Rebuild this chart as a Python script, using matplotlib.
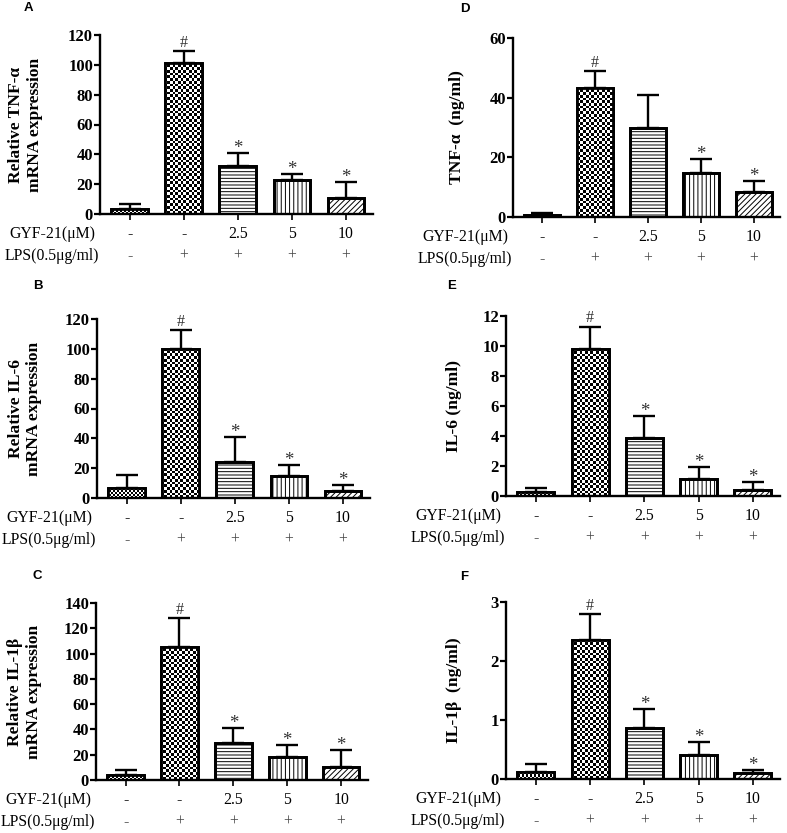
import numpy as np
import matplotlib
matplotlib.use('Agg')
import matplotlib.pyplot as plt

plt.rcParams['font.family'] = ['Liberation Serif', 'DejaVu Serif']
plt.rcParams['hatch.linewidth'] = 0.7

# datos
gyf = ['-', '-', '2.5', '5', '10']
lps = ['-', '+', '+', '+', '+']

tnf_mrna = [3.5, 101, 32.5, 23, 11]
tnf_mrna_err = [3, 8, 8.5, 3.5, 10.5]
tnf_mrna_sig = ['', '#', '*', '*', '*']

il6_mrna = [7, 100, 24, 14.5, 4.5]
il6_mrna_err = [8.5, 12.5, 17, 7.5, 4.5]
il6_mrna_sig = ['', '#', '*', '*', '*']

il1b_mrna = [3.8, 105, 29, 18.5, 10]
il1b_mrna_err = [4.2, 23, 12, 9.5, 13.5]
il1b_mrna_sig = ['', '#', '*', '*', '*']

tnf_prot = [0.8, 43.2, 29.8, 14.8, 8.3]
tnf_prot_err = [0.5, 5.7, 11.2, 4.5, 3.9]
tnf_prot_sig = ['', '#', '', '*', '*']

il6_prot = [0.25, 9.8, 3.85, 1.1, 0.4]
il6_prot_err = [0.25, 1.5, 1.5, 0.8, 0.55]
il6_prot_sig = ['', '#', '*', '*', '*']

il1b_prot = [0.12, 2.35, 0.86, 0.4, 0.1]
il1b_prot_err = [0.14, 0.45, 0.33, 0.22, 0.06]
il1b_prot_sig = ['', '#', '*', '*', '*']

W, H = 787, 833
fig = plt.figure(figsize=(W / 100, H / 100), dpi=100)


def caja(izq, der, arriba, abajo):
    return [izq / W, 1 - abajo / H, (der - izq) / W, (abajo - arriba) / H]


def tablero(ax, parche, celda, lim_x, lim_y):
    pos = ax.get_position()
    ancho = pos.width * W
    alto = pos.height * H
    nx = int(round(ancho / celda))
    ny = int(round(alto / celda))
    arr = np.add.outer(np.arange(ny), np.arange(nx)) % 2
    im = ax.imshow(arr, cmap='gray', vmin=0, vmax=1, aspect='auto',
                   interpolation='nearest',
                   extent=(lim_x[0], lim_x[1], lim_y[0], lim_y[1]), zorder=2.1)
    im.set_clip_path(parche)


def panel(ax, medias, errores, sig, yticks, ylabel, ylab_x, letra, letra_xy):
    x = np.arange(len(medias))
    lim_x = (-0.55, 4.5)
    lim_y = (yticks[0], yticks[-1])
    tramas = [None, None, '-----', '||||', '//////']
    barras = ax.bar(x, medias, width=0.68, facecolor='white', edgecolor='black',
                    linewidth=2, zorder=2)
    for i, b in enumerate(barras):
        if tramas[i]:
            b.set_hatch(tramas[i])
    tablero(ax, barras[0], 2.0, lim_x, lim_y)
    tablero(ax, barras[1], 2.7, lim_x, lim_y)
    ax.bar(x, medias, width=0.68, facecolor='none', edgecolor='black',
           linewidth=2, zorder=2.2)
    ax.errorbar(x, medias, yerr=[np.zeros(len(x)), errores], fmt='none',
                ecolor='black', elinewidth=1.7, capsize=8, capthick=1.7, zorder=1.9)

    for i, m in enumerate(sig):
        if m == '#':
            ax.annotate(m, (x[i], medias[i] + errores[i]), xytext=(0, 4),
                        textcoords='offset pixels', ha='center', va='baseline',
                        fontsize=11.5, color='#333333')
        elif m == '*':
            ax.annotate(m, (x[i], medias[i] + errores[i]), xytext=(0, 0),
                        textcoords='offset pixels', ha='center', va='baseline',
                        fontsize=13.5, color='#333333')

    ax.set_xlim(lim_x)
    ax.set_ylim(lim_y)
    ax.set_yticks(yticks)
    ax.set_yticklabels([str(t) for t in yticks], fontsize=12, fontweight='bold')
    ax.set_xticks(x)
    ax.set_xticklabels([])
    ax.tick_params(axis='y', length=4, width=1.6, pad=1)
    ax.tick_params(axis='x', length=4, width=1.2)
    for s in ['top', 'right']:
        ax.spines[s].set_visible(False)
    for s in ['left', 'bottom']:
        ax.spines[s].set_linewidth(1.7)

    ax.set_ylabel(ylabel, fontsize=12.6, fontweight='bold', linespacing=1.2)
    ax.yaxis.set_label_coords(ylab_x, 0.5)

    ax.annotate('GYF-21(μM)', xy=(0, 0), xycoords='axes fraction', xytext=(-48, -20),
                textcoords='offset pixels', ha='center', va='center', fontsize=11.3)
    ax.annotate('LPS(0.5μg/ml)', xy=(0, 0), xycoords='axes fraction', xytext=(-48, -42),
                textcoords='offset pixels', ha='center', va='center', fontsize=11.3)
    for i in range(len(x)):
        ax.annotate(gyf[i], xy=(x[i], 0), xycoords=('data', 'axes fraction'),
                    xytext=(0, -20), textcoords='offset pixels', ha='center',
                    va='center', fontsize=11.3)
        ax.annotate(lps[i], xy=(x[i], 0), xycoords=('data', 'axes fraction'),
                    xytext=(0, -42), textcoords='offset pixels', ha='center',
                    va='center', fontsize=11.3, color='#444444')

    fig.text(letra_xy[0] / W, 1 - letra_xy[1] / H, letra, family='Liberation Sans',
             fontweight='bold', fontsize=9.5, ha='center', va='center')


axA = fig.add_axes(caja(100, 373, 35, 214))
panel(axA, tnf_mrna, tnf_mrna_err, tnf_mrna_sig, [0, 20, 40, 60, 80, 100, 120],
      'Relative TNF-α\nmRNA expression', -0.21, 'A', (28, 8))

axB = fig.add_axes(caja(97, 370, 319, 498))
panel(axB, il6_mrna, il6_mrna_err, il6_mrna_sig, [0, 20, 40, 60, 80, 100, 120],
      'Relative IL-6\nmRNA expression', -0.2, 'B', (38, 286))

axC = fig.add_axes(caja(96, 368, 603, 780))
panel(axC, il1b_mrna, il1b_mrna_err, il1b_mrna_sig, [0, 20, 40, 60, 80, 100, 120, 140],
      'Relative IL-1β\nmRNA expression', -0.2, 'C', (37, 576))

axD = fig.add_axes(caja(513, 780, 38, 217))
panel(axD, tnf_prot, tnf_prot_err, tnf_prot_sig, [0, 20, 40, 60],
      'TNF-α  (ng/ml)', -0.18, 'D', (465, 9))

axE = fig.add_axes(caja(506, 780, 316, 496))
panel(axE, il6_prot, il6_prot_err, il6_prot_sig, [0, 2, 4, 6, 8, 10, 12],
      'IL-6 (ng/ml)', -0.16, 'E', (452, 286))

axF = fig.add_axes(caja(506, 780, 602, 779))
panel(axF, il1b_prot, il1b_prot_err, il1b_prot_sig, [0, 1, 2, 3],
      'IL-1β  (ng/ml)', -0.16, 'F', (464, 577))

fig.savefig('out.png', dpi=100)
